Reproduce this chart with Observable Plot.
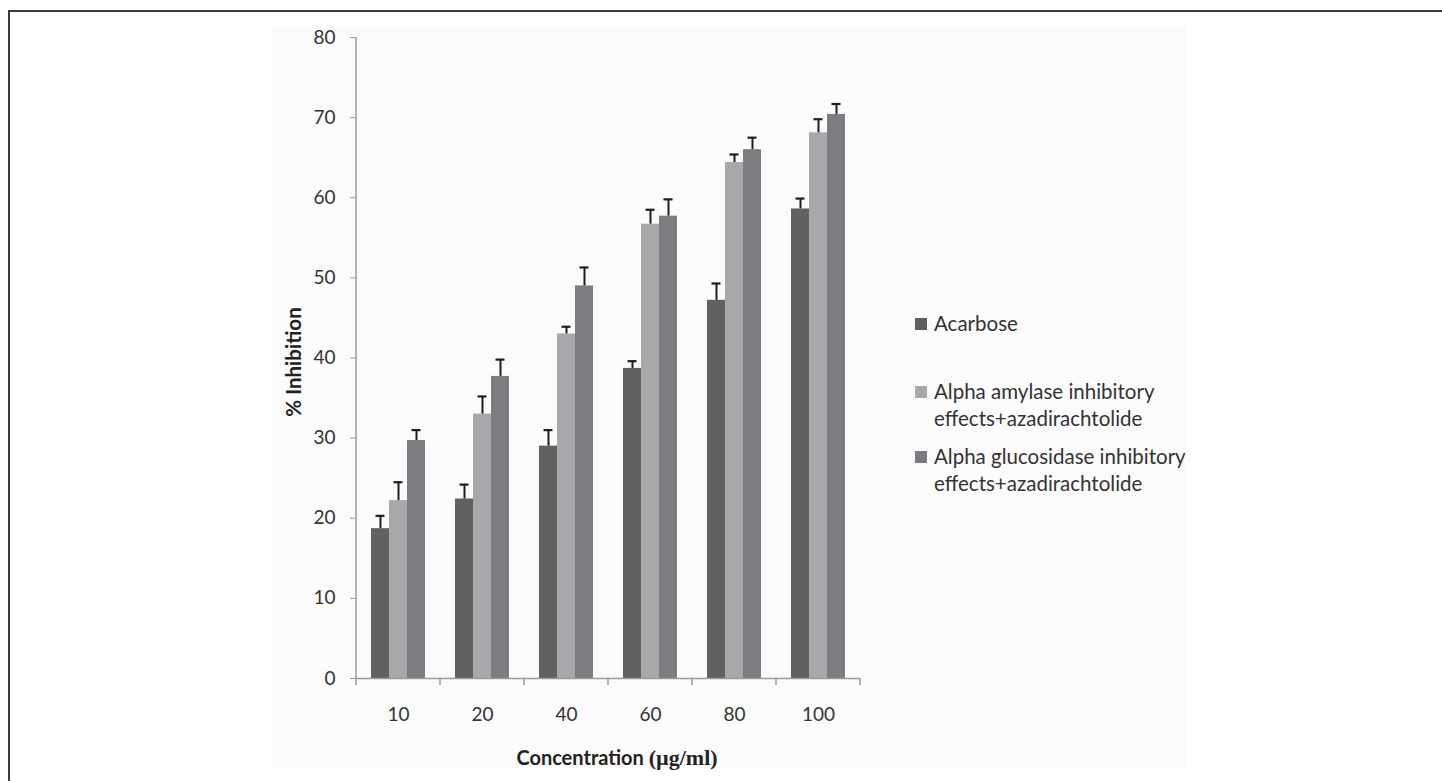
<!DOCTYPE html>
<html>
<head>
<meta charset="utf-8">
<script src="https://cdn.jsdelivr.net/npm/d3@7"></script>
<script src="https://cdn.jsdelivr.net/npm/@observablehq/plot@0.6"></script>
<style>
  html, body { margin: 0; padding: 0; background: #ffffff; }
  body { width: 1442px; height: 781px; overflow: hidden; position: relative; font-family: Lato, "Open Sans", sans-serif; }
  #border { position: absolute; left: 8px; top: 10px; width: 1500px; height: 900px; border: 2px solid #3a3a3a; box-sizing: border-box; }
  #panel { position: absolute; left: 272px; top: 26px; width: 914px; height: 743px; background: #fbfbfb; }
  #chart { position: absolute; left: 0; top: 0; }
  .legend { position: absolute; left: 915px; font-size: 20.5px; line-height: 27px; color: #333; }
  .legend .sw { position: absolute; left: 0; top: 8px; width: 12px; height: 12px; }
  .legend .tx { margin-left: 19px; white-space: nowrap; }
  .title { position: absolute; font-weight: bold; color: #222; white-space: nowrap; }
  #ytitle { left: 293px; top: 362px; font-size: 20.5px; transform: translate(-50%, -50%) rotate(-90deg); }
  #xtitle { left: 617px; top: 758px; font-size: 20px; transform: translate(-50%, -50%); }
  #xtitle .u { font-family: "Liberation Serif", serif; font-size: 22px; }
</style>
</head>
<body>
<div id="border"></div>
<div id="panel"></div>
<div id="chart"></div>
<div id="legend"></div>
<div class="title" id="ytitle">% Inhibition</div>
<div class="title" id="xtitle">Concentration <span class="u">(µg/ml)</span></div>
<script>
// ---- data ----
const concentrations = ["10", "20", "40", "60", "80", "100"];
const seriesNames = [
  "Acarbose",
  "Alpha amylase inhibitory effects+azadirachtolide",
  "Alpha glucosidase inhibitory effects+azadirachtolide"
];
const legendLines = [
  ["Acarbose"],
  ["Alpha amylase inhibitory", "effects+azadirachtolide"],
  ["Alpha glucosidase inhibitory", "effects+azadirachtolide"]
];
const acarbose       = [18.7, 22.4, 29.0, 38.7, 47.2, 58.6];
const acarboseErr    = [1.6, 1.8, 2.0, 0.9, 2.1, 1.3];
const amylase        = [22.2, 33.0, 43.0, 56.7, 64.4, 68.1];
const amylaseErr     = [2.3, 2.2, 0.9, 1.8, 1.0, 1.7];
const glucosidase    = [29.7, 37.7, 49.0, 57.7, 66.0, 70.4];
const glucosidaseErr = [1.3, 2.1, 2.3, 2.1, 1.5, 1.3];
const yTicks = [0, 10, 20, 30, 40, 50, 60, 70, 80];
const colors = ["#616163", "#a7a8aa", "#7c7d81"];

const valueSets = [acarbose, amylase, glucosidase];
const errSets = [acarboseErr, amylaseErr, glucosidaseErr];
const rows = [];
concentrations.forEach((c, i) => {
  seriesNames.forEach((s, j) => {
    rows.push({conc: c, series: s, value: valueSets[j][i], err: errSets[j][i]});
  });
});

const W = 1442, H = 781;
const mL = 353, mR = 580, mT = 37, mB = 103;

const chart = Plot.plot({
  width: W, height: H,
  marginLeft: mL, marginRight: mR, marginTop: mT, marginBottom: mB,
  style: {background: "transparent", fontFamily: "Lato, 'Open Sans', sans-serif", fontSize: "19px", color: "#333"},
  fx: {domain: concentrations, padding: 0, label: null},
  x: {domain: seriesNames, paddingInner: 0, paddingOuter: 0.75, axis: null},
  y: {domain: [0, 80], label: null},
  color: {domain: seriesNames, range: colors},
  marks: [
    Plot.barY(rows, {fx: "conc", x: "series", y: "value", fill: "series"}),
    Plot.ruleX(rows, {fx: "conc", x: "series", y1: "value", y2: d => d.value + d.err, stroke: "#1e1e1e", strokeWidth: 2}),
    Plot.tickY(rows, {fx: "conc", x: "series", y: d => d.value + d.err, stroke: "#1e1e1e", strokeWidth: 2.2, insetLeft: 4.5, insetRight: 4.5}),
    Plot.ruleY([0], {stroke: "#9a9a9a", strokeWidth: 1.5}),
    Plot.axisY({ticks: yTicks, tickSize: 6, tickPadding: 15, stroke: "#9a9a9a", fill: "#333", fontSize: 19, label: null, tickFormat: d => String(d)}),
    Plot.axisFx({anchor: "bottom", tickSize: 0, tickPadding: 29, fill: "#333", fontSize: 19, label: null})
  ]
});
document.getElementById("chart").appendChild(chart);

// axis line and category boundary ticks drawn from the library's scales
const fx = chart.scale("fx");
const y = chart.scale("y");
const svg = d3.select(chart);
const y0 = y.apply(0), y80 = y.apply(80);
let fxOffset = 0;
if (fx.range && fx.range[0] < mL - 1) fxOffset = mL;
const bounds = concentrations.map(c => fx.apply(c) + fxOffset);
bounds.push(fx.apply(concentrations[concentrations.length - 1]) + fxOffset + fx.bandwidth);
const yOff = (y.range && Math.min(...y.range) < mT - 1) ? mT : 0;
const g = svg.append("g").attr("stroke", "#9a9a9a").attr("stroke-width", 1.5);
g.append("line").attr("x1", bounds[0]).attr("x2", bounds[0]).attr("y1", y80 + yOff).attr("y2", y0 + yOff);
bounds.forEach(b => {
  g.append("line").attr("x1", b).attr("x2", b).attr("y1", y0 + yOff).attr("y2", y0 + yOff + 7);
});

// legend
const legend = document.getElementById("legend");
const legendTops = [309.5, 377.5, 442.5];
legendLines.forEach((lines, i) => {
  const d = document.createElement("div");
  d.className = "legend";
  d.style.top = legendTops[i] + "px";
  const sw = document.createElement("div");
  sw.className = "sw";
  sw.style.background = colors[i];
  d.appendChild(sw);
  lines.forEach(t => {
    const tx = document.createElement("div");
    tx.className = "tx";
    tx.textContent = t;
    d.appendChild(tx);
  });
  legend.appendChild(d);
});
</script>
</body>
</html>
